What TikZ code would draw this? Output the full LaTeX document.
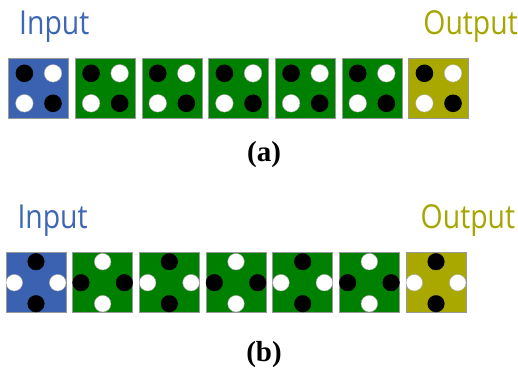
\documentclass[tikz,border=0pt]{standalone}
\usepackage{fontspec}
\usetikzlibrary{calc}
\setmainfont{Liberation Serif}
\newfontfamily\labelfont{Open Sans}
\definecolor{inblue}{HTML}{3A62B0}
\definecolor{midgreen}{HTML}{008000}
\definecolor{outolive}{HTML}{A8A800}
\definecolor{intext}{HTML}{3D66B4}
\definecolor{outtext}{HTML}{A6A600}
\newcommand{\narrow}[1]{\scalebox{0.86}[1]{#1}}
\tikzset{
  cell/.style={draw=gray!80, line width=0.6pt, minimum size=60pt, inner sep=0pt},
  blackdot/.style={fill=black},
  whitedot/.style={fill=white, draw=gray!70, line width=0.4pt},
  iolabel/.style={inner sep=0pt, font=\labelfont\fontsize{33}{36}\selectfont},
  caption/.style={inner sep=0pt, font=\bfseries\fontsize{29}{32}\selectfont}
}
\begin{document}
\begin{tikzpicture}[x=1pt,y=-1pt]
\useasboundingbox (0,0) rectangle (518,368);

% ---- (a): four dots at the corners of each cell ----
\node[iolabel, text=intext, anchor=base west] (inA) at (19,34.3) {\narrow{Input}};
\node[iolabel, text=outtext, anchor=base east] (outA) at (518,34.3) {\narrow{Output}};
\foreach \i/\c in {1/inblue,2/midgreen,3/midgreen,4/midgreen,5/midgreen,6/midgreen,7/outolive}{
  \node[cell, fill=\c] (a\i) at ({38.7+66.67*(\i-1)},88.3) {};
  \fill[blackdot] ($(a\i.center)+(-14.3,-15)$) circle (8.8pt);
  \filldraw[whitedot] ($(a\i.center)+(14.3,-15)$) circle (8.8pt);
  \filldraw[whitedot] ($(a\i.center)+(-14.3,15)$) circle (8.8pt);
  \fill[blackdot] ($(a\i.center)+(14.3,15)$) circle (8.8pt);
}
\node[caption, anchor=base] (capA) at (264,161.5) {(a)};

% ---- (b): four dots on the edges of each cell ----
\node[iolabel, text=intext, anchor=base west] (inB) at (17.3,228.3) {\narrow{Input}};
\node[iolabel, text=outtext, anchor=base east] (outB) at (515.3,228.3) {\narrow{Output}};
\foreach \i/\c/\v/\h in {1/inblue/blackdot/whitedot,2/midgreen/whitedot/blackdot,3/midgreen/blackdot/whitedot,4/midgreen/whitedot/blackdot,5/midgreen/blackdot/whitedot,6/midgreen/whitedot/blackdot,7/outolive/blackdot/whitedot}{
  \node[cell, fill=\c] (b\i) at ({36+66.67*(\i-1)},282.7) {};
  \filldraw[\v] ($(b\i.center)+(0,-21)$) circle (8.3pt);
  \filldraw[\v] ($(b\i.center)+(0,21)$) circle (8.3pt);
  \filldraw[\h] ($(b\i.center)+(-21.7,0)$) circle (8.3pt);
  \filldraw[\h] ($(b\i.center)+(21.7,0)$) circle (8.3pt);
}
\node[caption, anchor=base] (capB) at (264,361.5) {(b)};
\end{tikzpicture}
\end{document}
